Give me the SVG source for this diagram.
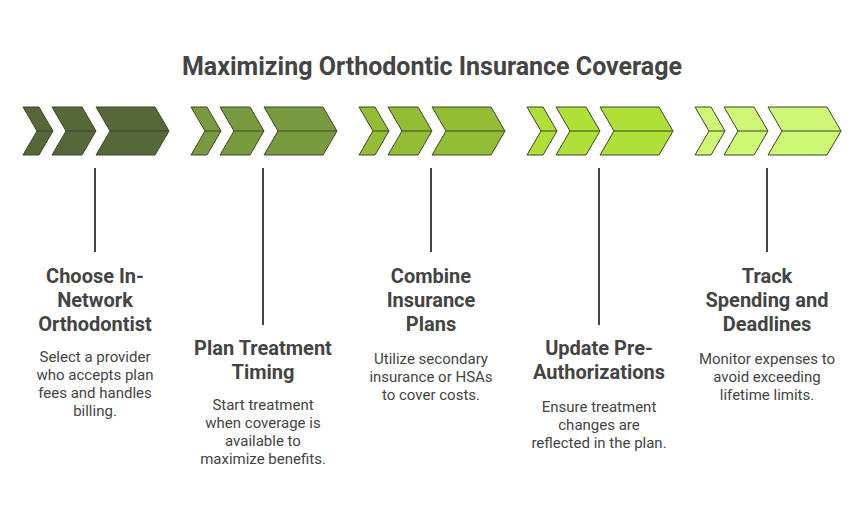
<svg xmlns="http://www.w3.org/2000/svg" width="864" height="516" viewBox="0 0 864 516">
<style>
text{font-family:Roboto,"Liberation Sans",sans-serif;fill:#444;text-anchor:middle}
.t{font-size:20px;font-weight:bold}
.d{font-size:15px}
.c path{stroke-width:2.5;stroke-linejoin:round}
.ln{stroke:#444;stroke-width:2}
</style>
<defs>
<g id="chev">
<path d="M0,0H16L30,24L16,48H0L14,24Z"/>
<path d="M29,0H59L73,24L59,48H29L43,24Z"/>
<path d="M73,0H132L146,24L132,48H73L87,24Z"/>
<path d="M14,24H30M43,24H73M87,24H146" fill="none"/>
</g>
</defs>
<rect width="864" height="516" fill="#fff"/>
<text x="432" y="75" style="font-size:25px;font-weight:bold">Maximizing Orthodontic Insurance Coverage</text>
<g id="n1"><use href="#chev" x="23" y="107" class="c" fill="#56673a" stroke="#3b4728"/>
<text class="t" x="95" y="283">Choose In-</text><text class="t" x="95" y="307">Network</text><text class="t" x="95" y="331">Orthodontist</text>
<text class="d" x="95" y="362">Select a provider</text><text class="d" x="95" y="380">who accepts plan</text><text class="d" x="95" y="398">fees and handles</text><text class="d" x="95" y="416">billing.</text></g>
<g id="n2"><use href="#chev" x="191" y="107" class="c" fill="#7a9a40" stroke="#3b4728"/>
<text class="t" x="263" y="355">Plan Treatment</text><text class="t" x="263" y="379">Timing</text>
<text class="d" x="263" y="410">Start treatment</text><text class="d" x="263" y="428">when coverage is</text><text class="d" x="263" y="446">available to</text><text class="d" x="263" y="464">maximize benefits.</text></g>
<g id="n3"><use href="#chev" x="359" y="107" class="c" fill="#93bd34" stroke="#3b4728"/>
<text class="t" x="431" y="283">Combine</text><text class="t" x="431" y="307">Insurance</text><text class="t" x="431" y="331">Plans</text>
<text class="d" x="431" y="364">Utilize secondary</text><text class="d" x="431" y="382">insurance or HSAs</text><text class="d" x="431" y="400">to cover costs.</text></g>
<g id="n4"><use href="#chev" x="527" y="107" class="c" fill="#aee038" stroke="#3b4728"/>
<text class="t" x="599" y="355">Update Pre-</text><text class="t" x="599" y="379">Authorizations</text>
<text class="d" x="599" y="412">Ensure treatment</text><text class="d" x="599" y="430">changes are</text><text class="d" x="599" y="448">reflected in the plan.</text></g>
<g id="n5"><use href="#chev" x="695" y="107" class="c" fill="#cdf774" stroke="#3b4728"/>
<text class="t" x="767" y="283">Track</text><text class="t" x="767" y="307">Spending and</text><text class="t" x="767" y="331">Deadlines</text>
<text class="d" x="767" y="364">Monitor expenses to</text><text class="d" x="767" y="382">avoid exceeding</text><text class="d" x="767" y="400">lifetime limits.</text></g>
<g id="connectors" class="ln">
<line x1="95" y1="168" x2="95" y2="252"/>
<line x1="263" y1="168" x2="263" y2="325"/>
<line x1="431" y1="168" x2="431" y2="252"/>
<line x1="599" y1="168" x2="599" y2="325"/>
<line x1="767" y1="168" x2="767" y2="252"/>
</g>
</svg>
